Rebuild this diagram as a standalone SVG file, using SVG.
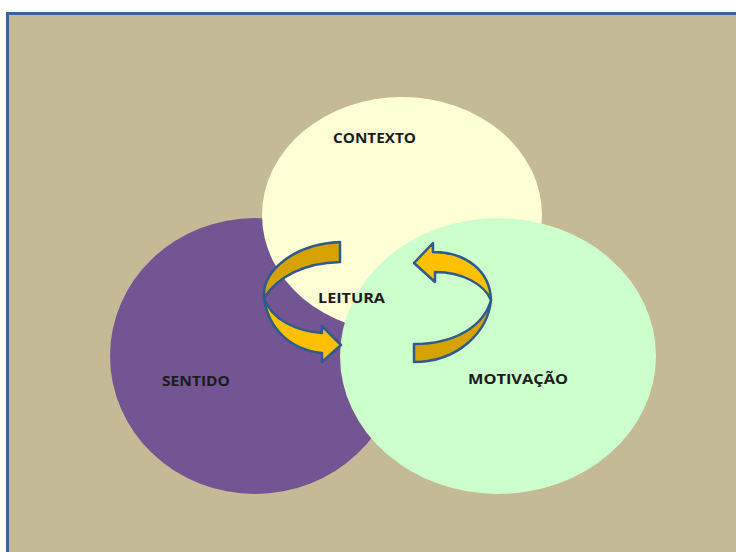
<svg xmlns="http://www.w3.org/2000/svg" width="736" height="552" viewBox="0 0 736 552">
<style>
.lbl{font-family:"Open Sans","Liberation Sans",sans-serif;font-weight:bold;font-size:15px;fill:#1c1c1c}
.back{fill:#D6A200;stroke:#2E5A8C;stroke-width:2.5;stroke-linejoin:round}
.front{fill:#FFC000;stroke:#2E5A8C;stroke-width:2.5;stroke-linejoin:round}
</style>
<rect x="0" y="0" width="736" height="552" fill="#ffffff"/>
<rect x="7.5" y="13.5" width="740" height="550" fill="#C4BA96" stroke="#3E6296" stroke-width="3"/>
<g id="sentido">
<ellipse cx="255" cy="356" rx="145" ry="138" fill="#735594"/>
<text class="lbl" x="162" y="386" textLength="68" lengthAdjust="spacingAndGlyphs">SENTIDO</text>
</g>
<g id="contexto">
<ellipse cx="402" cy="215" rx="140" ry="118" fill="#FFFFD6"/>
<text class="lbl" x="333" y="143" textLength="83" lengthAdjust="spacingAndGlyphs">CONTEXTO</text>
</g>
<g id="motivacao">
<ellipse cx="498" cy="356" rx="158" ry="138" fill="#CCFFCC"/>
<text class="lbl" x="468" y="384" textLength="100" lengthAdjust="spacingAndGlyphs">MOTIVAÇÃO</text>
</g>
<g id="leitura">
<text class="lbl" x="318" y="303" textLength="67" lengthAdjust="spacingAndGlyphs">LEITURA</text>
</g>
<g id="connectors">
<path class="back" d="M340,242 L340,262 C305,263 278,276 264,298 C262,270 295,244 340,242 Z"/>
<path class="front" d="M264,298 C268,328 290,350 322,353 L322,362 L341,345 L322,326 L322,333 C296,331 272,320 264,298 Z"/>
<path class="back" d="M414,344 L414,362 C458,362 488,332 491,300 C484,326 455,344 414,344 Z"/>
<path class="front" d="M491,300 C490,270 465,252 433,252 L433,243 L414,263 L435,282 L435,272 C462,272 484,284 491,300 Z"/>
</g>
</svg>
